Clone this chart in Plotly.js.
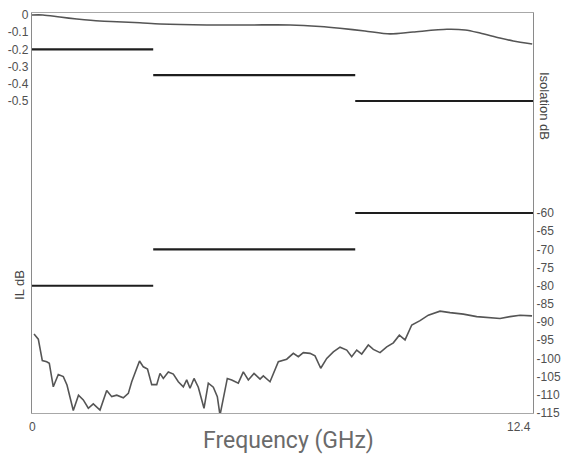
<!DOCTYPE html>
<html>
<head>
<meta charset="utf-8">
<script src="https://cdn.plot.ly/plotly-3.0.1.min.js"></script>
<style>
html,body{margin:0;padding:0;background:#fff;}
#chart{width:563px;height:456px;}
</style>
</head>
<body>
<div id="chart"></div>
<script>
// Insertion loss curve (left axis, dB)
var ilFreq = [0, 0.27, 0.69, 1.11, 1.68, 2.10, 2.67, 3.17, 4.33, 5.40, 6.39, 7.13, 7.62, 8.24, 8.86, 9.43, 10.27, 10.72, 11.09, 11.58, 11.91, 12.38];
var ilDb   = [0, 0.0, -0.012, -0.023, -0.035, -0.039, -0.045, -0.052, -0.058, -0.058, -0.058, -0.067, -0.077, -0.093, -0.110, -0.099, -0.083, -0.087, -0.105, -0.134, -0.151, -0.169];

// Isolation curve (right axis, dB)
var isoFreq = [0.050, 0.156, 0.255, 0.364, 0.428, 0.527, 0.651, 0.775, 0.866, 1.022, 1.151, 1.270, 1.394, 1.517, 1.683, 1.849, 1.973, 2.097, 2.260, 2.384, 2.468, 2.525, 2.661, 2.755, 2.859, 2.963, 3.087, 3.168, 3.250, 3.374, 3.498, 3.621, 3.745, 3.829, 3.911, 4.010, 4.116, 4.257, 4.364, 4.488, 4.587, 4.653, 4.735, 4.834, 4.943, 5.106, 5.230, 5.354, 5.495, 5.644, 5.725, 5.891, 6.097, 6.304, 6.468, 6.592, 6.715, 6.881, 7.005, 7.146, 7.295, 7.458, 7.624, 7.790, 7.913, 8.037, 8.161, 8.324, 8.448, 8.614, 8.780, 8.943, 9.092, 9.233, 9.399, 9.604, 9.809, 9.975, 10.099, 10.347, 10.676, 11.007, 11.337, 11.584, 11.832, 12.079, 12.376];
var isoDb   = [-93.3, -94.7, -100.6, -100.9, -101.3, -107.8, -104.4, -105.0, -107.3, -114.3, -110.1, -111.4, -113.7, -112.5, -114.2, -108.8, -110.5, -110.1, -110.8, -109.6, -106.4, -104.8, -100.7, -102.3, -102.9, -107.2, -107.2, -104.1, -105.5, -103.7, -104.3, -106.4, -107.8, -105.9, -108.2, -105.5, -107.9, -113.7, -106.8, -107.9, -110.5, -115.6, -110.5, -105.5, -105.9, -106.8, -103.7, -105.9, -104.1, -105.7, -104.8, -106.4, -100.9, -100.2, -98.6, -99.5, -98.4, -98.6, -99.3, -102.7, -100.0, -98.2, -96.9, -97.7, -99.5, -97.7, -98.8, -96.3, -97.5, -98.4, -96.8, -95.7, -93.6, -94.9, -90.8, -89.6, -88.1, -87.4, -87.0, -87.4, -87.8, -88.5, -88.8, -89.0, -88.5, -88.1, -88.3];

// Specification limits per frequency band
var bandEdges = [0, 3, 8, 12.4];
var ilLimits  = [-0.2, -0.35, -0.5];
var isoLimits = [-80, -70, -60];

// Tick labels
var ilTicks  = [0, -0.1, -0.2, -0.3, -0.4, -0.5];
var isoTicks = [-60, -65, -70, -75, -80, -85, -90, -95, -100, -105, -110, -115];
var xTicks = [0, 12.4];

var curveColor = '#555555';
var limitColor = '#1e1e1e';
function tickFont() { return {family: 'Liberation Sans, Arial, sans-serif', size: 12, color: '#505050'}; }

var traces = [];
traces.push({x: ilFreq, y: ilDb, type: 'scatter', mode: 'lines', line: {color: curveColor, width: 1.6, shape: 'spline', smoothing: 0.8}, xaxis: 'x', yaxis: 'y', hoverinfo: 'skip'});
traces.push({x: isoFreq, y: isoDb, type: 'scatter', mode: 'lines', line: {color: curveColor, width: 1.6}, xaxis: 'x', yaxis: 'y2', hoverinfo: 'skip'});
for (var i = 0; i < ilLimits.length; i++) {
  traces.push({x: [bandEdges[i], bandEdges[i + 1]], y: [ilLimits[i], ilLimits[i]], type: 'scatter', mode: 'lines', line: {color: limitColor, width: 2.2}, xaxis: 'x', yaxis: 'y', hoverinfo: 'skip'});
  traces.push({x: [bandEdges[i], bandEdges[i + 1]], y: [isoLimits[i], isoLimits[i]], type: 'scatter', mode: 'lines', line: {color: limitColor, width: 2.2}, xaxis: 'x', yaxis: 'y2', hoverinfo: 'skip'});
}

// x tick labels: first centred on its tick, last right-aligned to the axis end
var xTickAnnotations = xTicks.map(function (v, k) {
  return {text: String(v), xref: 'x', yref: 'paper', x: v, y: -0.012, showarrow: false,
          xanchor: k === xTicks.length - 1 ? 'right' : 'center', yanchor: 'top',
          font: tickFont()};
});

var layout = {
  width: 563, height: 456,
  margin: {l: 32, r: 30, t: 13, b: 43},
  paper_bgcolor: '#ffffff', plot_bgcolor: '#ffffff',
  showlegend: false,
  font: {color: '#505050'},
  xaxis: {range: [0, 12.4], tickvals: xTicks, showticklabels: false, showgrid: false, zeroline: false,
          showline: true, mirror: true, linecolor: '#a8a8a8', linewidth: 1.2, ticks: ''},
  yaxis: {range: [-2.314, 0.0116], tickvals: ilTicks, ticktext: ilTicks.map(String), showgrid: false, zeroline: false,
          showline: true, linecolor: '#8a8a8a', linewidth: 1.2, ticks: '', tickfont: tickFont()},
  yaxis2: {range: [-115, -5], overlaying: 'y', side: 'right', tickvals: isoTicks, ticktext: isoTicks.map(String), showgrid: false, zeroline: false,
           showline: true, linecolor: '#8a8a8a', linewidth: 1.2, ticks: '', tickfont: tickFont()},
  annotations: xTickAnnotations.concat([
    {text: 'IL dB', xref: 'paper', yref: 'paper', x: -0.026, y: 0.32, textangle: -90, showarrow: false,
     xanchor: 'center', yanchor: 'middle', font: {family: 'Liberation Sans, Arial, sans-serif', size: 13, color: '#444'}},
    {text: 'Isolation dB', xref: 'paper', yref: 'paper', x: 1.024, y: 0.7675, textangle: 90, showarrow: false,
     xanchor: 'center', yanchor: 'middle', font: {family: 'Liberation Sans, Arial, sans-serif', size: 13, color: '#444'}},
    {text: 'Frequency (GHz)', xref: 'paper', yref: 'paper', x: 0.511, y: -0.068, showarrow: false,
     xanchor: 'center', yanchor: 'middle', font: {family: 'Roboto, sans-serif', size: 23, color: '#6a6a6a'}}
  ])
};

Plotly.newPlot('chart', traces, layout, {staticPlot: true, displayModeBar: false});
</script>
</body>
</html>
